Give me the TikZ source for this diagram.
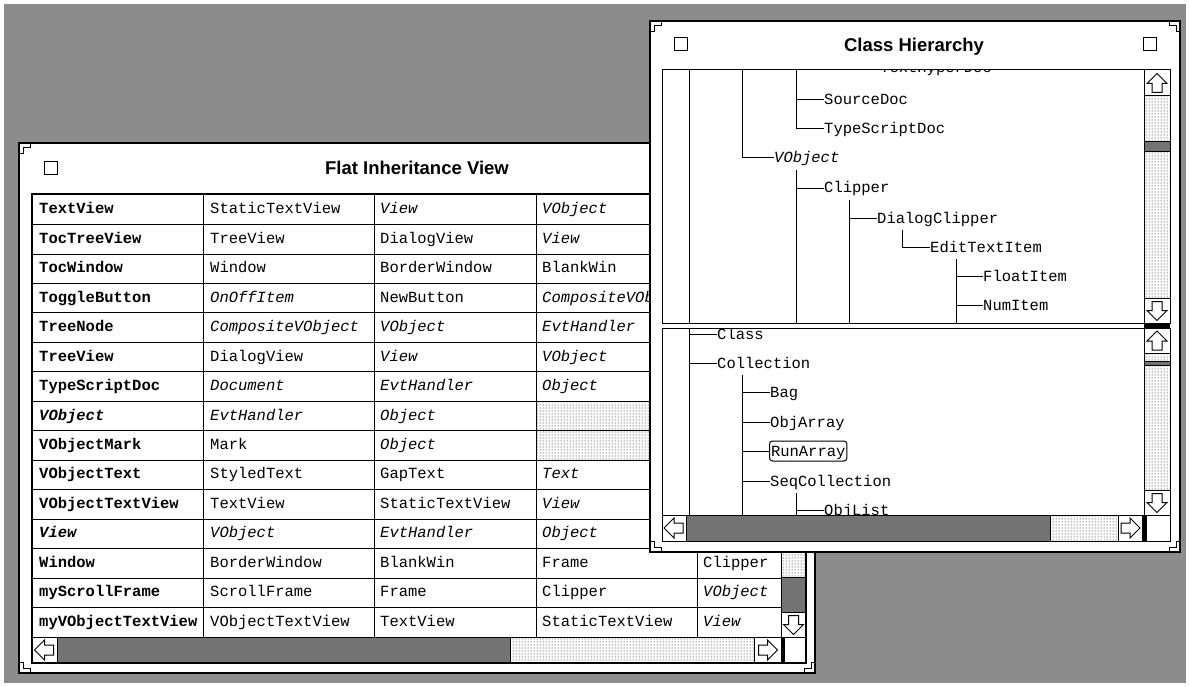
\documentclass[tikz,border=0pt]{standalone}
\usepackage{fontspec}
\setmainfont{Liberation Sans}
\setsansfont{Liberation Sans}
\setmonofont{Liberation Mono}
\usetikzlibrary{patterns}
\newcommand{\monosize}{\fontsize{15.5}{18}\selectfont}
\newcommand{\titlesize}{\fontsize{18.5}{22}\selectfont}
\tikzset{notch/.pic={\draw[line width=1pt] (0,11) -- (4,11) -- (4,5) -- (11,5) -- (11,0);},
  scrollarrow/.pic={\draw[line width=1pt,fill=white] (0,-10) -- (10,0) -- (5,0) -- (5,9) -- (-5,9) -- (-5,0) -- (-10,0) -- cycle;}}

\begin{document}
\begin{tikzpicture}[x=1pt,y=-1pt]
    \tikzstyle{desk}=[fill=black!45]
    \tikzstyle{window}=[draw,fill=white,line width=1.2pt]
    \tikzstyle{closebox}=[draw,line width=1pt,minimum size=13pt,inner sep=0pt]
    \tikzstyle{wintitle}=[anchor=base,font=\sffamily\bfseries\titlesize]
    \tikzstyle{cell}=[anchor=west,inner sep=0pt,text height=11pt,text depth=3pt,font=\ttfamily\monosize]
    \tikzstyle{bcell}=[cell,font=\ttfamily\bfseries\monosize]
    \tikzstyle{icell}=[cell,font=\ttfamily\itshape\monosize]
    \tikzstyle{bicell}=[cell,font=\ttfamily\bfseries\itshape\monosize]
    \tikzstyle{rule}=[line width=1pt]
    \tikzstyle{treelabel}=[anchor=west,inner sep=0pt,text height=12pt,text depth=2pt,font=\ttfamily\monosize]
    \tikzstyle{branch}=[line width=1pt]
    \tikzstyle{thumb}=[draw,line width=1pt,fill=black!55]
    \tikzstyle{track}=[draw,line width=1pt,pattern=dots]
    \tikzstyle{arrowbox}=[draw,line width=1pt,fill=white]
    \useasboundingbox (0,0) rectangle (1190,687);
    \fill[white] (0,0) rectangle (1190,687);
    \fill[desk] (4,4) rectangle (1186,683);
    % flat inheritance view
    \draw[window] (19,143) rectangle (815,673);
    \pic at (19,143) {notch};
    \pic[xscale=-1] at (815,143) {notch};
    \pic[yscale=-1] at (19,673) {notch};
    \pic[xscale=-1,yscale=-1] at (815,673) {notch};
    \node (flatclose) [closebox] at (51,168) {};
    \node (flattitle) [wintitle] at (417,175) {Flat Inheritance View};
    \fill[pattern=dots] (536,401.3) rectangle (697,460.2);
    \foreach \y in {224.5,254,283.4,312.9,342.4,371.8,401.3,430.8,460.2,489.7,519.2,548.6,578.1,607.6}
        \draw[rule] (32,\y) -- (781,\y);
    \foreach \x in {203,374,536,697} \draw[rule] (\x,195) -- (\x,637);
    \node (a1) [bcell] at (39,209.7) {TextView};          \node (b1) [cell] at (210,209.7) {StaticTextView};     \node (c1) [icell] at (380,209.7) {View};           \node (d1) [icell] at (542,209.7) {VObject};
    \node (a2) [bcell] at (39,239.2) {TocTreeView};       \node (b2) [cell] at (210,239.2) {TreeView};           \node (c2) [cell] at (380,239.2) {DialogView};      \node (d2) [icell] at (542,239.2) {View};
    \node (a3) [bcell] at (39,268.7) {TocWindow};         \node (b3) [cell] at (210,268.7) {Window};             \node (c3) [cell] at (380,268.7) {BorderWindow};    \node (d3) [cell] at (542,268.7) {BlankWin};
    \node (a4) [bcell] at (39,298.1) {ToggleButton};      \node (b4) [icell] at (210,298.1) {OnOffItem};         \node (c4) [cell] at (380,298.1) {NewButton};       \node (d4) [icell] at (542,298.1) {CompositeVObject};
    \node (a5) [bcell] at (39,327.6) {TreeNode};          \node (b5) [icell] at (210,327.6) {CompositeVObject};  \node (c5) [icell] at (380,327.6) {VObject};        \node (d5) [icell] at (542,327.6) {EvtHandler};
    \node (a6) [bcell] at (39,357.1) {TreeView};          \node (b6) [cell] at (210,357.1) {DialogView};         \node (c6) [icell] at (380,357.1) {View};           \node (d6) [icell] at (542,357.1) {VObject};
    \node (a7) [bcell] at (39,386.5) {TypeScriptDoc};     \node (b7) [icell] at (210,386.5) {Document};          \node (c7) [icell] at (380,386.5) {EvtHandler};     \node (d7) [icell] at (542,386.5) {Object};
    \node (a8) [bicell] at (39,416.0) {VObject};          \node (b8) [icell] at (210,416.0) {EvtHandler};        \node (c8) [icell] at (380,416.0) {Object};
    \node (a9) [bcell] at (39,445.5) {VObjectMark};       \node (b9) [cell] at (210,445.5) {Mark};               \node (c9) [icell] at (380,445.5) {Object};
    \node (a10) [bcell] at (39,474.9) {VObjectText};      \node (b10) [cell] at (210,474.9) {StyledText};        \node (c10) [cell] at (380,474.9) {GapText};        \node (d10) [icell] at (542,474.9) {Text};
    \node (a11) [bcell] at (39,504.4) {VObjectTextView};  \node (b11) [cell] at (210,504.4) {TextView};          \node (c11) [cell] at (380,504.4) {StaticTextView}; \node (d11) [icell] at (542,504.4) {View};
    \node (a12) [bicell] at (39,533.9) {View};            \node (b12) [icell] at (210,533.9) {VObject};          \node (c12) [icell] at (380,533.9) {EvtHandler};    \node (d12) [icell] at (542,533.9) {Object};
    \node (a13) [bcell] at (39,563.3) {Window};           \node (b13) [cell] at (210,563.3) {BorderWindow};      \node (c13) [cell] at (380,563.3) {BlankWin};       \node (d13) [cell] at (542,563.3) {Frame};          \node (e13) [cell] at (703,563.3) {Clipper};
    \node (a14) [bcell] at (39,592.8) {myScrollFrame};    \node (b14) [cell] at (210,592.8) {ScrollFrame};       \node (c14) [cell] at (380,592.8) {Frame};          \node (d14) [cell] at (542,592.8) {Clipper};        \node (e14) [icell] at (703,592.8) {VObject};
    \node (a15) [bcell] at (39,622.3) {myVObjectTextView}; \node (b15) [cell] at (210,622.3) {VObjectTextView};  \node (c15) [cell] at (380,622.3) {TextView};       \node (d15) [cell] at (542,622.3) {StaticTextView}; \node (e15) [icell] at (703,622.3) {View};
    % scroll bars
    \draw[arrowbox] (781,195) rectangle (806,221);
    \draw[track] (781,221) rectangle (806,577);
    \draw[thumb] (781,577) rectangle (806,612);
    \draw[arrowbox] (781,612) rectangle (806,637);
    \pic[rotate=180] at (793.5,624.5) {scrollarrow};
    \draw[arrowbox] (32,637) rectangle (57,663);
    \pic[rotate=90] at (44.5,650) {scrollarrow};
    \draw[thumb] (57,637) rectangle (510,663);
    \draw[track] (510,637) rectangle (754,663);
    \draw[arrowbox] (754,637) rectangle (781,663);
    \pic[rotate=-90] at (767.5,650) {scrollarrow};
    \fill (781,637) rectangle (785,663);
    \draw[line width=2pt] (32,194) rectangle (806,663);
    % class hierarchy
    \draw[window] (650,21) rectangle (1180,552);
    \pic at (650,21) {notch};
    \pic[xscale=-1] at (1180,21) {notch};
    \pic[yscale=-1] at (650,552) {notch};
    \pic[xscale=-1,yscale=-1] at (1180,552) {notch};
    \node (hierclose) [closebox] at (680.5,44.5) {};
    \node (hierzoom) [closebox] at (1149.5,44.5) {};
    \node (hiertitle) [wintitle] at (914,52) {Class Hierarchy};
    \begin{scope}
        \clip (662,70) rectangle (1144,323);
        \node (texthyper) [treelabel] at (880,68) {TextHyperDoc};
        \node (sourcedoc) [treelabel] at (824,100) {SourceDoc};
        \node (typescript) [treelabel] at (824,129) {TypeScriptDoc};
        \node (vobject) [treelabel,font=\ttfamily\itshape\monosize] at (774,158) {VObject};
        \node (clipper) [treelabel] at (824,188) {Clipper};
        \node (dlgclipper) [treelabel] at (877,218) {DialogClipper};
        \node (edittext) [treelabel] at (930,247) {EditTextItem};
        \node (floatitem) [treelabel] at (983,276) {FloatItem};
        \node (numitem) [treelabel] at (983,305) {NumItem};
        \coordinate (rootup) at (689,70);
        \coordinate (rootupend) at (689,323);
        \coordinate (evtline) at (742,70);
        \coordinate (docline) at (796,70);
        \coordinate (vobjline) at (796,170);
        \coordinate (clipline) at (849,200);
        \coordinate (dlgline) at (902,230);
        \coordinate (editline) at (956,259);
        \draw[branch] (rootup) -- (rootupend);
        \draw[branch] (evtline) |- (vobject.west);
        \draw[branch] (docline |- sourcedoc.west) -- (sourcedoc.west);
        \draw[branch] (docline) |- (typescript.west);
        \draw[branch] (vobjline) -- (vobjline |- rootupend);
        \draw[branch] (vobjline |- clipper.west) -- (clipper.west);
        \draw[branch] (clipline) -- (clipline |- rootupend);
        \draw[branch] (clipline |- dlgclipper.west) -- (dlgclipper.west);
        \draw[branch] (dlgline) |- (edittext.west);
        \draw[branch] (editline) -- (editline |- rootupend);
        \draw[branch] (editline |- floatitem.west) -- (floatitem.west);
        \draw[branch] (editline |- numitem.west) -- (numitem.west);
    \end{scope}
    \begin{scope}
        \clip (662,328) rectangle (1144,515);
        \node (class) [treelabel] at (717,334) {Class};
        \node (collection) [treelabel] at (717,363) {Collection};
        \node (bag) [treelabel] at (770,392) {Bag};
        \node (objarray) [treelabel] at (770,422) {ObjArray};
        \node (runarray) [treelabel,draw,line width=1pt,rounded corners=3pt,inner xsep=1.5pt,inner ysep=3pt] at (769,451) {RunArray};
        \node (seqcoll) [treelabel] at (770,481) {SeqCollection};
        \node (objlist) [treelabel] at (824,510) {ObjList};
        \coordinate (rootlow) at (689,328);
        \coordinate (rootlowend) at (689,515);
        \coordinate (colline) at (742,375);
        \coordinate (seqline) at (796,493);
        \draw[branch] (rootlow) -- (rootlowend);
        \draw[branch] (rootlow |- class.west) -- (class.west);
        \draw[branch] (rootlow |- collection.west) -- (collection.west);
        \draw[branch] (colline) -- (colline |- rootlowend);
        \draw[branch] (colline |- bag.west) -- (bag.west);
        \draw[branch] (colline |- objarray.west) -- (objarray.west);
        \draw[branch] (colline |- runarray.west) -- (runarray.west);
        \draw[branch] (colline |- seqcoll.west) -- (seqcoll.west);
        \draw[branch] (seqline) -- (seqline |- rootlowend);
        \draw[branch] (seqline |- objlist.west) -- (objlist.west);
    \end{scope}
    \draw[line width=1pt] (662,70) rectangle (1170,323);
    \draw[line width=1pt] (662,328) rectangle (1170,541);
    \fill (1144,323) rectangle (1170,328);
    \draw[arrowbox] (1144,70) rectangle (1170,96);
    \pic at (1157,83.5) {scrollarrow};
    \draw[track] (1144,96) rectangle (1170,142);
    \draw[thumb] (1144,142) rectangle (1170,152);
    \draw[track] (1144,152) rectangle (1170,298);
    \draw[arrowbox] (1144,298) rectangle (1170,323);
    \pic[rotate=180] at (1157,310.5) {scrollarrow};
    \draw[arrowbox] (1144,328) rectangle (1170,353);
    \pic at (1157,341) {scrollarrow};
    \draw[track] (1144,353) rectangle (1170,361);
    \draw[thumb] (1144,361) rectangle (1170,365);
    \draw[track] (1144,365) rectangle (1170,490);
    \draw[arrowbox] (1144,490) rectangle (1170,515);
    \pic[rotate=180] at (1157,502.5) {scrollarrow};
    \draw[arrowbox] (662,515) rectangle (686,541);
    \pic[rotate=90] at (674,528) {scrollarrow};
    \draw[thumb] (686,515) rectangle (1050,541);
    \draw[track] (1050,515) rectangle (1118,541);
    \draw[arrowbox] (1118,515) rectangle (1142,541);
    \pic[rotate=-90] at (1130,528) {scrollarrow};
    \fill (1142,515) rectangle (1146,541);
    \draw[line width=1pt] (1146,515) rectangle (1170,541);
\end{tikzpicture}
\end{document}
